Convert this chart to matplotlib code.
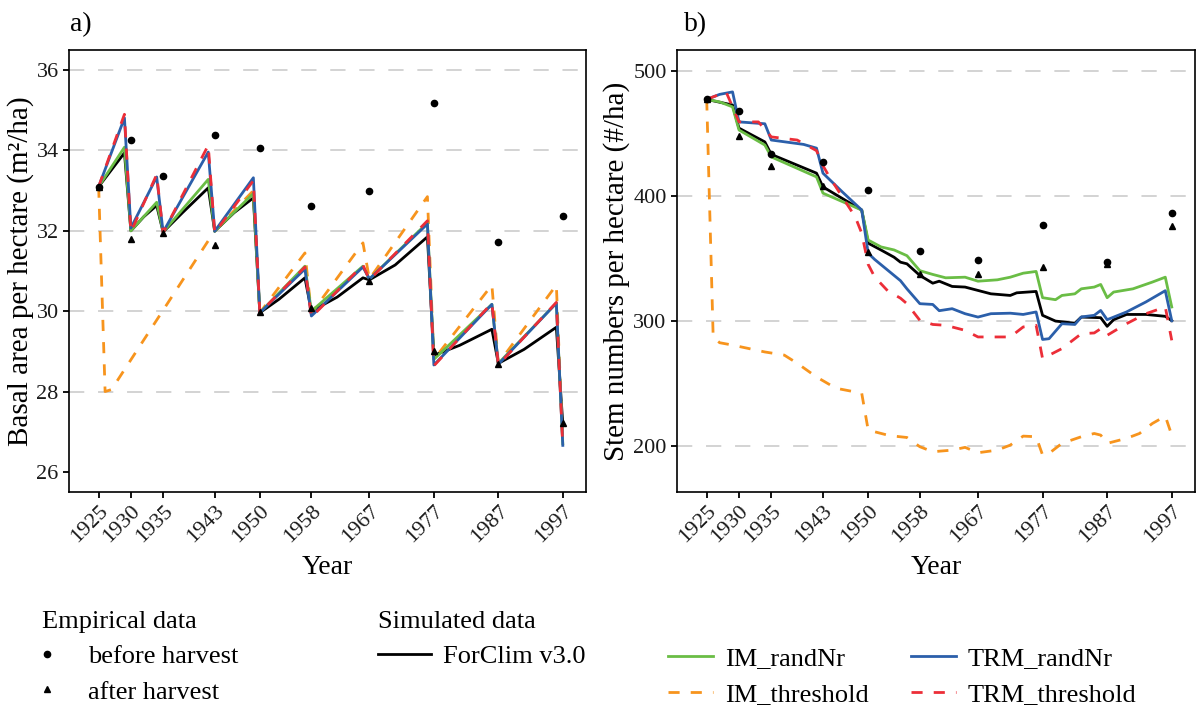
import matplotlib
matplotlib.use("Agg")
import matplotlib.pyplot as plt
from matplotlib.lines import Line2D

plt.rcParams["font.family"] = ["Liberation Serif", "DejaVu Serif"]

# ---- basal area (panel a) ----
ba_years = [1925, 1929, 1930, 1934, 1935, 1942, 1943, 1949, 1950, 1957, 1958,
            1966, 1967, 1976, 1977, 1986, 1987, 1996, 1997]
ba_im_rand = [33.10, 34.08, 32.00, 32.71, 31.97, 33.28, 31.99, 32.93, 29.96, 31.12, 30.00,
              31.12, 30.80, 32.20, 28.80, 30.17, 28.70, 30.20, 26.70]
ba_trm_rand = [33.10, 34.81, 32.07, 33.34, 31.97, 33.96, 31.99, 33.32, 29.96, 31.05, 29.88,
               31.10, 30.80, 32.17, 28.66, 30.17, 28.68, 30.20, 26.66]
ba_trm_thr = [33.10, 34.90, 31.97, 33.40, 31.95, 34.13, 31.95, 33.25, 29.96, 31.10, 29.85,
              31.15, 30.78, 32.25, 28.64, 30.20, 28.66, 30.22, 26.62]

ba_forclim_years = [1925, 1929, 1930, 1932, 1934, 1935, 1938, 1942, 1943, 1946, 1949, 1950,
                    1953, 1957, 1958, 1962, 1966, 1967, 1971, 1976, 1977, 1981, 1986, 1987,
                    1991, 1996, 1997]
ba_forclim = [33.10, 33.94, 32.00, 32.35, 32.63, 31.97, 32.45, 33.07, 31.99, 32.45, 32.82, 29.96,
              30.30, 30.83, 30.00, 30.35, 30.83, 30.78, 31.15, 31.85, 28.90, 29.15, 29.55, 28.70,
              29.05, 29.60, 27.20]

ba_im_thr_years = [1925, 1926, 1927, 1943, 1949, 1950, 1957, 1958, 1966, 1967, 1976, 1977,
                   1986, 1987, 1996, 1997]
ba_im_thr = [33.10, 28.00, 28.05, 32.00, 33.00, 29.96, 31.45, 29.95, 31.70, 30.80, 32.85, 28.80,
             30.65, 28.70, 30.65, 26.70]

ba_obs_years = [1925, 1930, 1935, 1943, 1950, 1958, 1967, 1977, 1987, 1997]
ba_before = [33.10, 34.27, 33.36, 34.38, 34.06, 32.63, 33.00, 35.18, 31.73, 32.37]
ba_after = [33.10, 31.80, 31.95, 31.64, 29.98, 30.08, 30.75, 29.00, 28.69, 27.22]

# ---- stem numbers (panel b) ----
sn_forclim_years = [1925, 1929, 1930, 1934, 1935, 1942, 1943, 1949, 1950, 1952, 1954, 1955,
                    1956, 1958, 1960, 1961, 1963, 1965, 1967, 1969, 1972, 1973, 1976, 1977,
                    1979, 1982, 1983, 1986, 1987, 1988, 1990, 1993, 1996, 1997]
sn_forclim = [477, 472.5, 454, 443, 433, 418, 407, 388.5, 362, 356.5, 350.8, 346.8,
              345.5, 336.2, 330, 331.6, 327.4, 326.9, 324.2, 321.5, 320.2, 322.3, 323.4, 304.3,
              299.7, 298, 302.9, 302.4, 295.5, 300.8, 305, 305, 303.5, 300]

sn_im_rand_years = [1925, 1927, 1929, 1930, 1934, 1935, 1942, 1943, 1949, 1950, 1952, 1954,
                    1956, 1958, 1960, 1962, 1965, 1967, 1970, 1972, 1974, 1976, 1977, 1979,
                    1980, 1982, 1983, 1985, 1986, 1987, 1988, 1991, 1994, 1996, 1997]
sn_im_rand = [477, 475, 471, 452.5, 440.5, 431, 415, 402, 388.5, 364.5, 359, 356.6,
              352, 340, 337, 334.3, 334.8, 331.6, 332.7, 334.8, 338, 339.4, 318.4, 316.8,
              320.2, 321.5, 325.5, 326.9, 329, 318.4, 322.9, 325.5, 330.9, 334.8, 311]

sn_trm_rand_years = [1925, 1927, 1929, 1930, 1934, 1935, 1940, 1942, 1943, 1944, 1946, 1949,
                     1950, 1951, 1953, 1955, 1956, 1958, 1960, 1961, 1963, 1965, 1967, 1969,
                     1972, 1974, 1976, 1977, 1978, 1980, 1982, 1983, 1985, 1986, 1987, 1990,
                     1993, 1996, 1997]
sn_trm_rand = [477, 481, 483, 459, 457.5, 444.5, 441, 438, 418, 413, 403, 388.5,
               354, 349, 340.5, 332, 325.5, 313.6, 313, 308, 309.6, 305.6, 302.9, 305.6,
               306, 305, 307, 285, 285.6, 297.6, 297, 303, 304.3, 308.2, 300.8, 307,
               315, 324, 300]

sn_trm_thr_years = [1925, 1928, 1930, 1933, 1935, 1939, 1942, 1943, 1944, 1948, 1949, 1950,
                    1951, 1953, 1955, 1956, 1958, 1960, 1962, 1965, 1967, 1970, 1972, 1974,
                    1976, 1977, 1980, 1983, 1985, 1986, 1987, 1990, 1993, 1996, 1997]
sn_trm_thr = [477, 483, 459, 459, 447, 444.5, 436, 424, 415, 383, 370, 345,
              335, 324, 318, 313.6, 300.3, 297, 296.3, 292.3, 287, 287, 287, 295,
              296.3, 269.7, 277.7, 289.6, 290.2, 293.6, 288.3, 297.6, 305.6, 311, 284.3]

sn_im_thr_years = [1925, 1926, 1927, 1929, 1934, 1937, 1939, 1942, 1945, 1949, 1950, 1953,
                   1954, 1956, 1958, 1960, 1963, 1965, 1967, 1970, 1972, 1974, 1976, 1977,
                   1978, 1980, 1983, 1985, 1986, 1987, 1990, 1992, 1994, 1996, 1997]
sn_im_thr = [477, 287, 282.4, 280.5, 275, 272.5, 266, 255, 246, 242, 212.5, 208.5,
             207.7, 206.6, 199.2, 195.2, 196.5, 198.7, 194.4, 196.5, 200.5, 207.7, 207.2, 192.6,
             193.9, 201.9, 207.2, 209.8, 208.5, 201.9, 205.9, 209.8, 217.8, 223.7, 208.5]

sn_obs_years = [1925, 1930, 1935, 1943, 1950, 1958, 1967, 1977, 1987, 1997]
sn_before = [477, 467.7, 433.5, 427, 404.5, 355.9, 348.9, 376.6, 346.8, 386.2]
sn_after = [477, 447.7, 424, 407.7, 355, 337.5, 337, 342.8, 345.5, 376]

year_ticks = [1925, 1930, 1935, 1943, 1950, 1958, 1967, 1977, 1987, 1997]

C_BLACK = "black"
C_GREEN = "#6ABD45"
C_BLUE = "#2B5FAA"
C_ORANGE = "#F7941D"
C_RED = "#EC2E38"
LW = 2.0
DASH = (0, (4, 4))


def fx(px):
    return px / 1198


def fy(py):
    return 1 - py / 706


def draw_panel(ax, series, obs_years, before, after, yticks, grid, ylim, ylabel):
    for g in grid:
        ax.axhline(g, color="#C8C8C8", lw=1.1, ls=(0, (10, 9)), zorder=0)
    for xs, ys, color, ls in series:
        ax.plot(xs, ys, color=color, lw=LW, ls=ls)
    ax.plot(obs_years, before, "o", color="black", ms=4.5, zorder=5)
    ax.plot(obs_years, after, "^", color="black", ms=5, zorder=5)
    ax.set_xlim(1920.4, 2000.6)
    ax.set_ylim(*ylim)
    ax.set_xticks(year_ticks)
    ax.set_xticklabels([str(y) for y in year_ticks], rotation=45, ha="right",
                       va="top", rotation_mode="anchor", fontsize=16.5)
    ax.set_yticks(yticks)
    ax.tick_params(axis="both", direction="out", length=4, width=1.3, labelsize=16,
                   color="black", labelcolor="#1a1a1a")
    ax.tick_params(axis="x", pad=3)
    for sp in ax.spines.values():
        sp.set_linewidth(1.2)
        sp.set_color("black")
    ax.set_xlabel("Year", fontsize=20, labelpad=6)
    ax.set_ylabel(ylabel, fontsize=21, labelpad=2)


fig = plt.figure(figsize=(11.98, 7.06), dpi=100)
ax1 = fig.add_axes([fx(69), fy(492), fx(586) - fx(69), fy(50) - fy(492)])
ax2 = fig.add_axes([fx(677), fy(492), fx(1195) - fx(677), fy(50) - fy(492)])

draw_panel(ax1,
           [(ba_forclim_years, ba_forclim, C_BLACK, "-"),
            (ba_im_thr_years, ba_im_thr, C_ORANGE, DASH),
            (ba_years, ba_im_rand, C_GREEN, "-"),
            (ba_years, ba_trm_rand, C_BLUE, "-"),
            (ba_years, ba_trm_thr, C_RED, DASH)],
           ba_obs_years, ba_before, ba_after,
           [26, 28, 30, 32, 34, 36], [28, 30, 32, 34, 36], (25.5, 36.5),
           "Basal area per hectare (m\u00b2/ha)")

draw_panel(ax2,
           [(sn_forclim_years, sn_forclim, C_BLACK, "-"),
            (sn_im_thr_years, sn_im_thr, C_ORANGE, DASH),
            (sn_im_rand_years, sn_im_rand, C_GREEN, "-"),
            (sn_trm_rand_years, sn_trm_rand, C_BLUE, "-"),
            (sn_trm_thr_years, sn_trm_thr, C_RED, DASH)],
           sn_obs_years, sn_before, sn_after,
           [200, 300, 400, 500], [200, 300, 400, 500], (163, 516.5),
           "Stem numbers per hectare (#/ha)")

fig.text(fx(70), fy(25), "a)", fontsize=20, va="center", ha="left")
fig.text(fx(684), fy(25), "b)", fontsize=20, va="center", ha="left")

# ---- legends ----
leg_kw = dict(frameon=False, fontsize=19, title_fontsize=19, borderpad=0,
              borderaxespad=0, labelspacing=0.45, alignment="left", loc="upper left")

emp_handles = [Line2D([], [], ls="none", marker="o", color="black", ms=4.5),
               Line2D([], [], ls="none", marker="^", color="black", ms=4)]
leg1 = fig.legend(emp_handles, ["before harvest", "after harvest"], title="Empirical data",
                  bbox_to_anchor=(fx(42), fy(611)), handlelength=0.4, handletextpad=1.33,
                  **leg_kw)

sim1 = [Line2D([], [], color=C_BLACK, lw=LW)]
leg2 = fig.legend(sim1, ["ForClim v3.0"], title="Simulated data",
                  bbox_to_anchor=(fx(378), fy(611)), handlelength=2.0, handletextpad=0.45,
                  **leg_kw)

sim2 = [Line2D([], [], color=C_GREEN, lw=LW),
        Line2D([], [], color=C_ORANGE, lw=LW, ls=DASH),
        Line2D([], [], color=C_BLUE, lw=LW),
        Line2D([], [], color=C_RED, lw=LW, ls=DASH)]
leg3 = fig.legend(sim2, ["IM_randNr", "IM_threshold", "TRM_randNr", "TRM_threshold"], ncol=2,
                  bbox_to_anchor=(fx(668), fy(647)), handlelength=1.7, handletextpad=0.45,
                  columnspacing=1.6, **leg_kw)

fig.savefig("out.png", dpi=100)
